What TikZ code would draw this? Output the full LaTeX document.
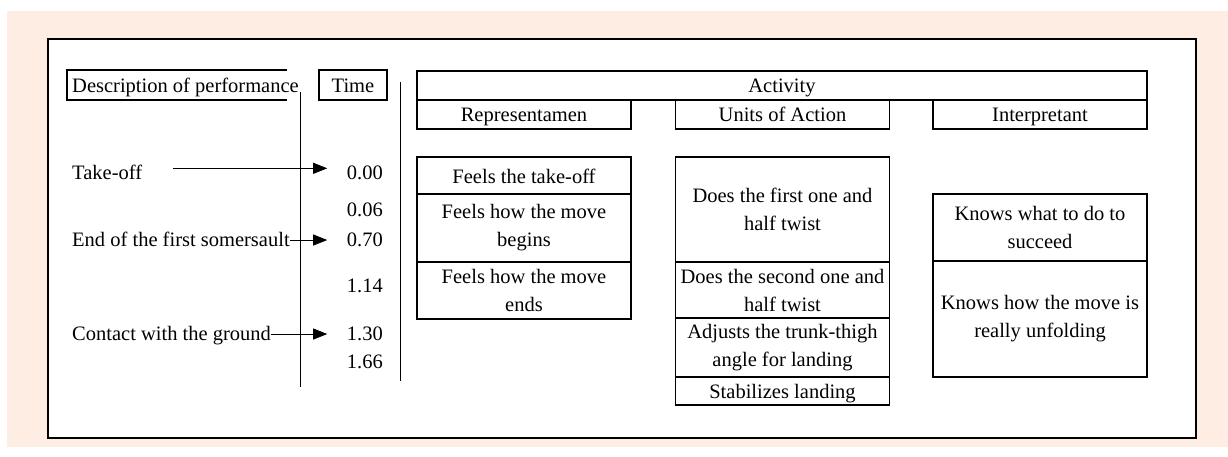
\documentclass[tikz,border=0pt]{standalone}
\usepackage{fontspec}
\setmainfont{Liberation Serif}
\usetikzlibrary{arrows.meta}
\definecolor{peach}{RGB}{253,237,227}

\begin{document}
\begin{tikzpicture}[x=1pt, y=-1pt,
    every node/.style={inner sep=0pt, font=\fontsize{20.5}{28}\selectfont},
    cell/.style={draw, line width=1.6pt, align=center, minimum width=214pt},
    oneline/.style={text height=15pt, text depth=0pt},
    phase/.style={anchor=base west},
    stamp/.style={anchor=base east},
    pointer/.style={-{Triangle[length=14pt, width=11pt]}, line width=0.9pt},
    rule/.style={line width=0.9pt}]

    \useasboundingbox (0,0) rectangle (1228,457);

    % Background and frame
    \fill[white] (0,0) rectangle (1228,457);
    \fill[peach] (7,11) rectangle (1228,447);
    \draw[line width=1.6pt, fill=white] (48,39) rectangle (1196,438);

    % Header of the time line
    \draw[line width=1.6pt] (287,70) -- (67,70) -- (67,100) -- (287,100);
    \node[phase] (desc) at (72,93) {Description of performance};
    \node[draw, oneline, line width=1.6pt, minimum width=68pt, minimum height=30pt] (time) at (353,85) {Time};

    % Phases of the move
    \node[phase] (takeoff) at (72,180) {Take-off};
    \node[phase] (endsom) at (72,246.7) {End of the first somersault};
    \node[phase] (contact) at (72,340.7) {Contact with the ground};

    % Times
    \foreach \name/\y/\t in {t000/180/0.00, t006/216.7/0.06, t070/246.7/0.70,
                             t114/292.7/1.14, t130/340.7/1.30, t166/368.3/1.66} {
        \node[stamp] (\name) at (383,\y) {\t};
    }

    % Vertical rules
    \coordinate (axisA top) at (300,92);
    \coordinate (axisA bot) at (300,387);
    \coordinate (axisB top) at (400,82);
    \coordinate (axisB bot) at (400,381);
    \draw[rule] (axisA top) -- (axisA bot);
    \draw[rule] (axisB top) -- (axisB bot);

    % Arrows from phases to times
    \coordinate (toff) at ([yshift=5pt]t000.west);
    \draw[pointer, shorten <=31pt, shorten >=19.5pt] (takeoff.east |- toff) -- (toff);
    \draw[pointer, shorten >=19.5pt] (endsom.east |- t070.west) -- (t070.west);
    \draw[pointer, shorten >=19.5pt] (contact.east |- t130.west) -- (t130.west);

    % Activity header
    \node[cell, oneline, minimum width=730pt, minimum height=29pt] (activity) at (782,85.5) {Activity};
    \node[cell, oneline, minimum height=29pt] (repr) at (524,114.5) {Representamen};
    \node[cell, oneline, minimum height=29pt] (units) at (782.5,114.5) {Units of Action};
    \node[cell, oneline, minimum height=29pt] (interp) at (1040,114.5) {Interpretant};

    % Representamen
    \node[cell, oneline, minimum height=37pt] (r1) at (524,175.5) {Feels the take-off};
    \node[cell, minimum height=68pt] (r2) at (524,228) {Feels how the move\\begins};
    \node[cell, minimum height=57pt] (r3) at (524,290.5) {Feels how the move\\ends};

    % Units of action
    \node[cell, minimum height=105pt] (u1) at (782.5,209.5) {Does the first one and\\half twist};
    \node[cell, minimum height=56pt] (u2) at (782.5,290) {Does the second one and\\half twist};
    \node[cell, minimum height=59pt] (u3) at (782.5,347.5) {Adjusts the trunk-thigh\\angle for landing};
    \node[cell, oneline, minimum height=28pt] (u4) at (782.5,391) {Stabilizes landing};

    % Interpretant
    \node[cell, minimum height=67pt] (i1) at (1040,227.5) {Knows what to do to\\succeed};
    \node[cell, minimum height=116pt] (i2) at (1040,319) {Knows how the move is\\really unfolding};

\end{tikzpicture}
\end{document}
